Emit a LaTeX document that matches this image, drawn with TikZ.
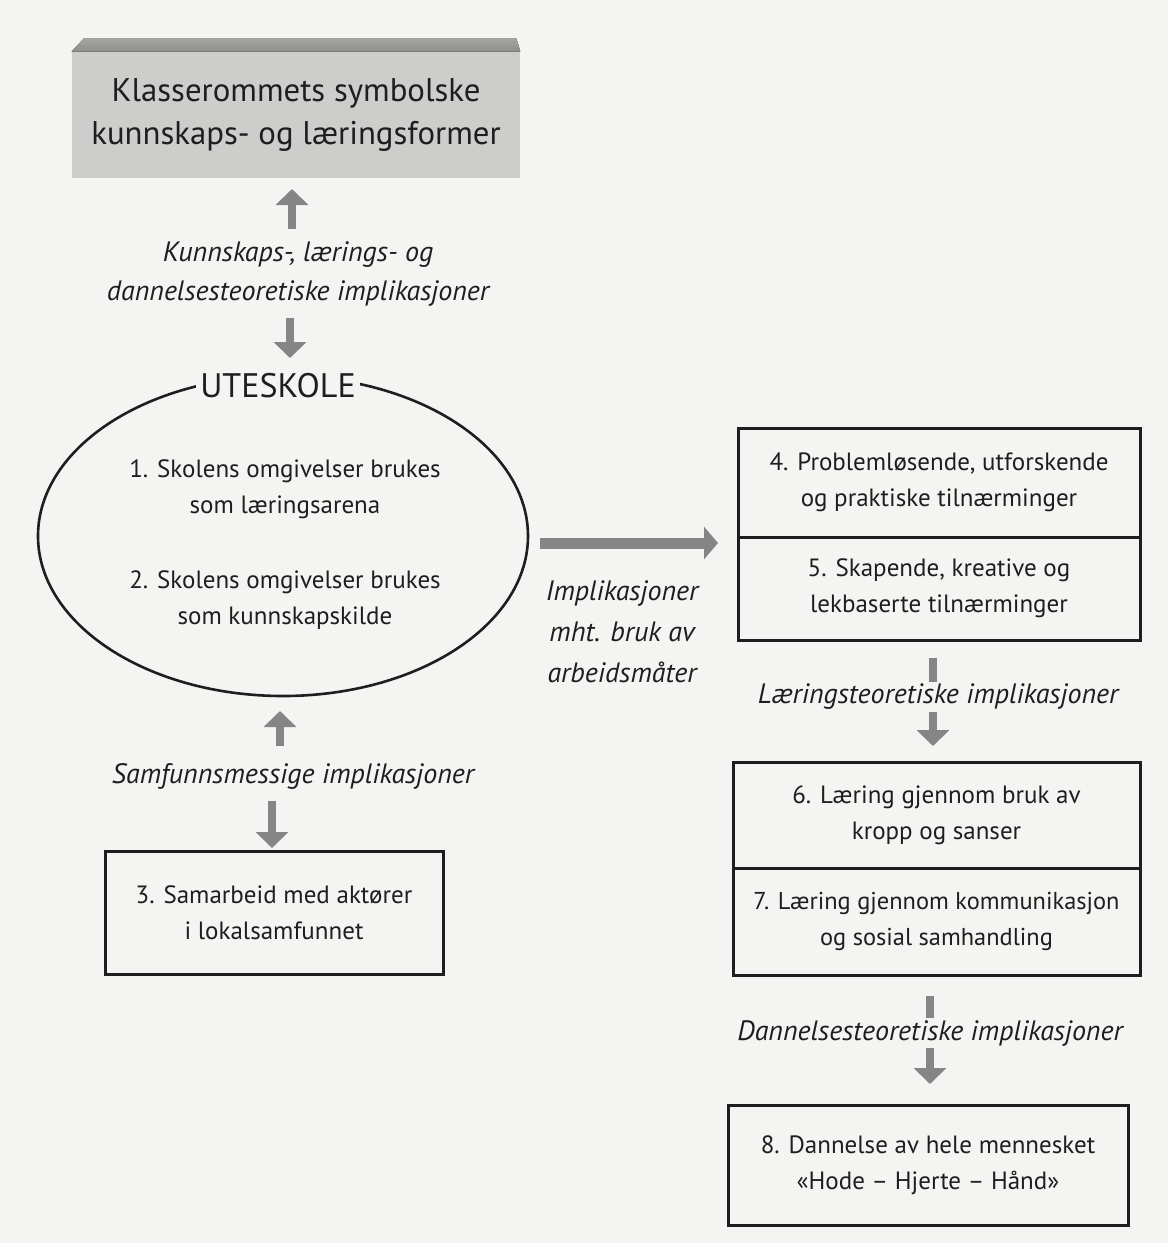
\documentclass[tikz,border=0pt]{standalone}
\usepackage{fontspec}
\setmainfont{PT Sans}
\usetikzlibrary{arrows.meta,shapes.geometric}
\definecolor{bg}{HTML}{F4F4F2}
\definecolor{arrowgray}{HTML}{858585}
\definecolor{frontgray}{HTML}{CDCDCB}
\definecolor{topgray}{HTML}{8E8E8C}
\definecolor{ink}{HTML}{1E1E1E}
\tikzset{
  body/.style={font=\fontsize{12.5}{18}\selectfont, align=center, text=ink},
  ital/.style={font=\fontsize{14}{19.5}\selectfont\itshape, align=center, text=ink, fill=bg, inner sep=1pt},
  boxed/.style={draw=ink, line width=1.5pt, fill=bg, body},
  bigarrow/.style={draw=arrowgray, line width=4.2pt, -{Triangle[width=16pt,length=8pt]}},
}
\begin{document}
\begin{tikzpicture}[x=0.5pt,y=-0.5pt]
\fill[bg] (0,0) rectangle (1168,1243);
\useasboundingbox (0,0) rectangle (1168,1243);
% top block
\node[fill=frontgray, minimum width=224pt, minimum height=63pt, inner sep=0pt,
      font=\fontsize{16.4}{21.5}\selectfont, align=center, text=ink] (title) at (296,115)
  {Klasserommets symbolske\\kunnskaps- og læringsformer};
\fill[top color=topgray!80, bottom color=topgray] (title.north west) -- ++(12,-13) -- ([xshift=-2pt,yshift=6.5pt]title.north east) -- (title.north east) -- cycle;

% arrows top
\coordinate (a1s) at (292,229); \coordinate (a1e) at (292,189);
\draw[bigarrow] (a1s) -- (a1e);
\node[ital] (impl1) at (298,274) {Kunnskaps-, lærings- og\\dannelsesteoretiske implikasjoner};
\coordinate (a2s) at (290,318); \coordinate (a2e) at (290,358);
\draw[bigarrow] (a2s) -- (a2e);

% ellipse
\node[draw=ink, line width=1.3pt, ellipse, minimum width=245pt, minimum height=160pt, inner sep=0pt] (ell) at (283,536) {};
\node[font=\fontsize{17}{18}\selectfont, text=ink, fill=bg, inner sep=2pt] (ute) at (278,386) {UTESKOLE};
\node[body] (p1) at (285,489) {1. Skolens omgivelser brukes\\som læringsarena};
\node[body] (p2) at (285,600) {2. Skolens omgivelser brukes\\som kunnskapskilde};

% lower left arrows
\coordinate (a3s) at (280,746); \coordinate (a3e) at (280,711);
\draw[bigarrow] (a3s) -- (a3e);
\node[ital] (impl2) at (293,776) {Samfunnsmessige implikasjoner};
\coordinate (a4s) at (272,801); \coordinate (a4e) at (272,848);
\draw[bigarrow] (a4s) -- (a4e);

\node[boxed, minimum width=169pt, minimum height=61.5pt, inner sep=0pt] (box3) at (274,913)
  {3. Samarbeid med aktører\\i lokalsamfunnet};

% middle right arrow
\coordinate (a5s) at (540,543); \coordinate (a5e) at (718,543);
\draw[bigarrow, line width=5.5pt, -{Triangle[width=16pt,length=7pt]}] (a5s) -- (a5e);
\node[ital, font=\fontsize{14}{20.5}\selectfont\itshape] (impl3) at (622,632) {Implikasjoner\\mht. bruk av\\arbeidsmåter};

% right boxes
\node[boxed, minimum width=201pt, minimum height=54.5pt, inner sep=0pt] (box4) at (939,482.5)
  {4. Problemløsende, utforskende\\og praktiske tilnærminger};
\node[boxed, minimum width=201pt, minimum height=51.5pt, inner sep=0pt] (box5) at (939,588.5)
  {5. Skapende, kreative og\\lekbaserte tilnærminger};

\coordinate (a6s) at (933,658); \coordinate (a6e) at (933,746);
\draw[bigarrow] (a6s) -- (a6e);
\node[ital] (impl4) at (938,697) {Læringsteoretiske implikasjoner};

\node[boxed, minimum width=203.5pt, minimum height=53pt, inner sep=0pt] (box6) at (936.5,815)
  {6. Læring gjennom bruk av\\kropp og sanser};
\node[boxed, minimum width=203.5pt, minimum height=53.5pt, inner sep=0pt, font=\fontsize{12.2}{18}\selectfont] (box7) at (936.5,921.5)
  {7. Læring gjennom kommunikasjon\\og sosial samhandling};

\coordinate (a7s) at (930,996); \coordinate (a7e) at (930,1084);
\draw[bigarrow] (a7s) -- (a7e);
\node[ital] (impl5) at (930,1033) {Dannelsesteoretiske implikasjoner};

\node[boxed, minimum width=200pt, minimum height=60pt, inner sep=0pt] (box8) at (928,1165)
  {8. Dannelse av hele mennesket\\«Hode – Hjerte – Hånd»};
\end{tikzpicture}
\end{document}
